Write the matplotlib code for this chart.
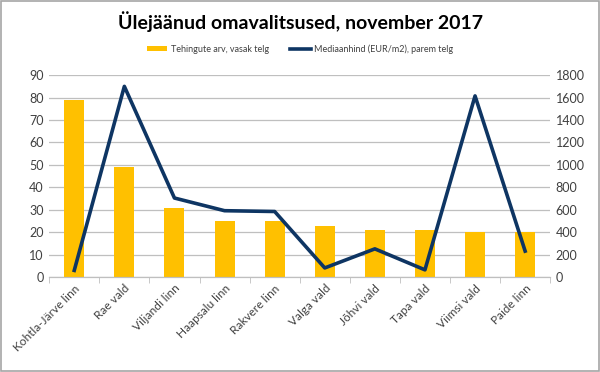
import matplotlib.pyplot as plt
import numpy as np

plt.rcParams['font.family'] = ['Lato', 'DejaVu Sans']

# Data
municipalities = ['Kohtla-Järve linn', 'Rae vald', 'Viljandi linn', 'Haapsalu linn',
                  'Rakvere linn', 'Valga vald', 'Jõhvi vald', 'Tapa vald',
                  'Viimsi vald', 'Paide linn']
deals = [79, 49, 31, 25, 25, 23, 21, 21, 20, 20]
median_price = [60, 1700, 705, 592, 585, 82, 252, 65, 1615, 232]

BAR_COLOR = '#FFC000'
LINE_COLOR = '#0E3563'
GRID_COLOR = '#BFBFBF'
TEXT_COLOR = '#404040'

fig = plt.figure(figsize=(6, 3.72), dpi=100)
ax = fig.add_axes([0.082, 0.255, 0.835, 0.543])
ax2 = ax.twinx()

x = np.arange(len(municipalities))
ax.bar(x, deals, width=0.4, color=BAR_COLOR, zorder=2,
       label='Tehingute arv, vasak telg')
ax2.plot(x, median_price, color=LINE_COLOR, linewidth=2.6, zorder=3,
         label='Mediaanhind (EUR/m2), parem telg')

ax.set_xlim(-0.5, len(municipalities) - 0.5)
ax.set_ylim(0, 90)
ax.set_yticks(range(0, 91, 10))
ax2.set_ylim(0, 1800)
ax2.set_yticks(range(0, 1801, 200))

ax.grid(axis='y', color=GRID_COLOR, linewidth=0.9, zorder=0)
ax.set_axisbelow(True)

for a in (ax, ax2):
    for s in ['top', 'left', 'right']:
        a.spines[s].set_visible(False)
    a.spines['bottom'].set_color(GRID_COLOR)
    a.tick_params(axis='y', length=0, labelsize=9, colors=TEXT_COLOR, pad=4)

ax.set_xticks(x)
ax.set_xticklabels(municipalities, rotation=45, ha='right', rotation_mode='anchor',
                   fontsize=8.5, color=TEXT_COLOR)
ax.tick_params(axis='x', length=0, pad=4)
ax.set_xticks(np.arange(-0.5, len(municipalities)), minor=True)
ax.tick_params(axis='x', which='minor', length=4, color=GRID_COLOR)
ax2.tick_params(axis='x', length=0)

fig.text(0.5, 0.942, 'Ülejäänud omavalitsused, november 2017', ha='center',
         va='center', fontsize=14, fontweight='bold', color='black')

h1, l1 = ax.get_legend_handles_labels()
h2, l2 = ax2.get_legend_handles_labels()
fig.legend(h1 + h2, l1 + l2, loc='center', bbox_to_anchor=(0.5, 0.868), ncol=2,
           frameon=False, fontsize=6.5, handlelength=2.3, handleheight=0.5,
           handletextpad=0.4, columnspacing=2.3, labelcolor=TEXT_COLOR)

fig.patches.append(plt.Rectangle((0.002, 0.003), 0.996, 0.994, transform=fig.transFigure,
                                 fill=False, edgecolor='#A6A6A6', linewidth=1.2))

fig.savefig('out.png', dpi=100)
